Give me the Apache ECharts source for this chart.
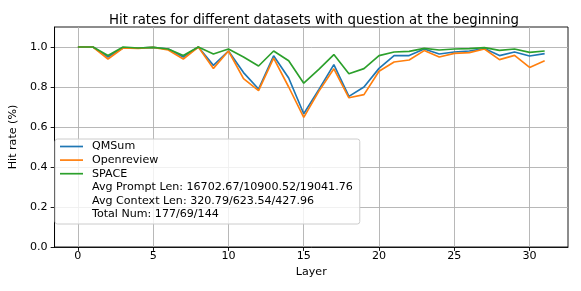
<!DOCTYPE html>
<html>
<head>
<meta charset="utf-8">
<script src="https://cdn.jsdelivr.net/npm/echarts@6/dist/echarts.min.js"></script>
<style>
html,body{margin:0;padding:0;background:#fff;}
#chart{width:581px;height:291px;}
</style>
</head>
<body>
<div id="chart"></div>
<script>
const titleText = 'Hit rates for different datasets with question at the beginning';
const layers = [0,1,2,3,4,5,6,7,8,9,10,11,12,13,14,15,16,17,18,19,20,21,22,23,24,25,26,27,28,29,30,31];
const qmsum = [1.0,1.0,0.95,0.995,0.995,0.998,0.99,0.95,1.0,0.908,0.98,0.872,0.79,0.956,0.845,0.666,0.787,0.912,0.753,0.8,0.893,0.957,0.957,0.99,0.965,0.975,0.98,0.992,0.957,0.975,0.955,0.967];
const openreview = [1.0,1.0,0.94,0.995,0.993,0.998,0.985,0.94,1.0,0.893,0.98,0.842,0.782,0.944,0.8,0.648,0.778,0.891,0.746,0.762,0.879,0.925,0.935,0.982,0.95,0.968,0.972,0.99,0.937,0.958,0.898,0.931];
const space = [1.0,1.0,0.958,1.0,0.995,0.998,0.99,0.957,1.0,0.965,0.99,0.95,0.905,0.98,0.931,0.819,0.888,0.962,0.866,0.892,0.957,0.975,0.978,0.993,0.985,0.99,0.992,0.997,0.983,0.99,0.973,0.98];
const seriesNames = ['QMSum','Openreview','SPACE'];
const infoLines = ['Avg Prompt Len: 16702.67/10900.52/19041.76','Avg Context Len: 320.79/623.54/427.96','Total Num: 177/69/144'];
const xTicks = [0,5,10,15,20,25,30];
const yTicks = [0,0.2,0.4,0.6,0.8,1.0];
const colors = ['#1f77b4','#ff7f0e','#2ca02c'];

const FONT = 'DejaVu Sans';
const LINE_ICON = 'path://M0,0 L23,0 L23,1.7 L0,1.7 Z';
const chart = echarts.init(document.getElementById('chart'), null, {renderer:'canvas'});
const values = [qmsum, openreview, space];
const series = seriesNames.map((n,i)=>({
  name:n, type:'line', symbol:'none', showSymbol:false, animation:false,
  data: layers.map((l,j)=>[l, values[i][j]]),
  lineStyle:{color:colors[i], width:1.67}, itemStyle:{color:colors[i]}, color:colors[i], z:2+i
}));
infoLines.forEach(t=>series.push({
  name:t, type:'line', symbol:'none', data:[], color:'rgba(0,0,0,0)',
  lineStyle:{color:'rgba(0,0,0,0)', width:0}, itemStyle:{color:'rgba(0,0,0,0)'}
}));
const legendData = seriesNames.map((n,i)=>({name:n, icon:LINE_ICON, itemStyle:{color:colors[i], borderWidth:0}}))
  .concat(infoLines.map(t=>({name:t, icon:LINE_ICON, itemStyle:{color:'rgba(0,0,0,0)', borderWidth:0}})));
const axisCommon = {
  axisLine:{show:true, onZero:false, lineStyle:{color:'#000', width:0.9}},
  axisTick:{show:true, inside:false, length:3.9, lineStyle:{color:'#000', width:0.9}},
  splitLine:{show:true, lineStyle:{color:'#b0b0b0', width:0.9}},
  nameTextStyle:{fontFamily:FONT, fontSize:11.1, color:'#000'}
};
chart.setOption({
  animation:false,
  backgroundColor:'#fff',
  title:{text:titleText, left:309, top:9, textAlign:'center',
    textStyle:{fontFamily:FONT, fontSize:13.3, fontWeight:'normal', color:'#000'}},
  grid:{left:50, right:13, top:27, bottom:44, show:true, borderColor:'#000', borderWidth:0.9, containLabel:false},
  legend:{
    orient:'vertical', left:55, top:139,
    data:legendData,
    itemWidth:23, itemHeight:14, itemGap:2.6,
    padding:[2,7,4,5],
    backgroundColor:'rgba(255,255,255,0.8)', borderColor:'#cccccc', borderWidth:1, borderRadius:2.5,
    selectedMode:false,
    textStyle:{fontFamily:FONT, fontSize:11.1, color:'#000', padding:[0,0,0,4]}
  },
  xAxis:Object.assign({}, axisCommon, {
    type:'value', min:-1.55, max:32.55,
    name:'Layer', nameLocation:'middle', nameGap:19,
    axisTick:Object.assign({}, axisCommon.axisTick, {customValues:xTicks}),
    axisLabel:{customValues:xTicks, margin:4, fontFamily:FONT, fontSize:11.1, color:'#000'}
  }),
  yAxis:Object.assign({}, axisCommon, {
    type:'value', min:0, max:1.1,
    name:'Hit rate (%)', nameLocation:'middle', nameGap:27,
    axisTick:Object.assign({}, axisCommon.axisTick, {customValues:yTicks}),
    axisLabel:{customValues:yTicks, margin:7, fontFamily:FONT, fontSize:11.1, color:'#000',
      formatter:v=>Number(v).toFixed(1)}
  }),
  series:series
});
</script>
</body>
</html>
